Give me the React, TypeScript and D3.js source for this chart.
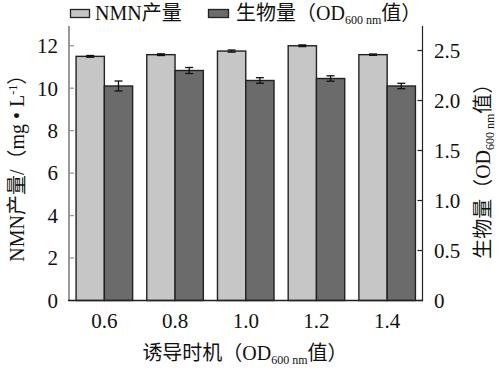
import React from "react";
import * as d3 from "d3";

const categories = ["0.6", "0.8", "1.0", "1.2", "1.4"];
const nmnValues = [11.5, 11.58, 11.75, 12.0, 11.58];
const nmnErrors = [0.04, 0.04, 0.05, 0.04, 0.03];
const bioValues = [2.145, 2.3, 2.2, 2.22, 2.145];
const bioErrors = [0.05, 0.03, 0.028, 0.027, 0.027];
const leftTicks = [0, 2, 4, 6, 8, 10, 12];
const rightTicks = [0, 0.5, 1.0, 1.5, 2.0, 2.5];
const rightTickLabels = ["0", "0.5", "1.0", "1.5", "2.0", "2.5"];

const W = 503;
const H = 371;
const left = 69;
const right = 422.5;
const top = 26;
const bottom = 300.5;

const FONT = "Liberation Serif, DejaVu Serif, Noto Sans CJK SC, serif";
const NMN_FILL = "#c6c6c6";
const BIO_FILL = "#6b6b6b";
const STROKE = "#222";

export default function App() {
  const x = d3.scaleBand<string>().domain(categories).range([left, right]).paddingInner(0.2).paddingOuter(0.1);
  const xSub = d3.scaleBand<string>().domain(["nmn", "bio"]).range([0, x.bandwidth()]).padding(0);
  const yL = d3.scaleLinear().domain([0, 12.93]).range([bottom, top]);
  const yR = d3.scaleLinear().domain([0, 2.745]).range([bottom, top]);
  const bw = xSub.bandwidth();

  const errBar = (cx: number, yTop: number, yBot: number, key: string) => (
    <g key={key} stroke="#111" strokeWidth={1.3}>
      <line x1={cx} x2={cx} y1={yTop} y2={yBot} />
      <line x1={cx - 4} x2={cx + 4} y1={yTop} y2={yTop} />
      <line x1={cx - 4} x2={cx + 4} y1={yBot} y2={yBot} />
    </g>
  );

  const ts = { fontFamily: FONT } as React.CSSProperties;

  return (
    <svg width={W} height={H} style={{ position: "absolute", left: 0, top: 0, background: "#fff", fontFamily: FONT }}>
      <rect x={0} y={0} width={W} height={H} fill="#fff" />
      {/* Legend */}
      <g>
        <rect x={70.5} y={9.5} width={19} height={8} fill={NMN_FILL} stroke={STROKE} strokeWidth={1.3} />
        <text x={95} y={20} fontSize={20} fill="#111" style={ts}>NMN产量</text>
        <rect x={208.5} y={9.5} width={20} height={8} fill={BIO_FILL} stroke={STROKE} strokeWidth={1.3} />
        <text x={236} y={20} fontSize={20} fill="#111" style={ts}>
          生物量（OD<tspan fontSize={12} dy={4}>600 nm</tspan><tspan dy={-4}>值）</tspan>
        </text>
      </g>

      {/* Bars */}
      {categories.map((c, i) => {
        const x0 = x(c)!;
        const xn = x0 + xSub("nmn")!;
        const xb = x0 + xSub("bio")!;
        return (
          <g key={c}>
            <rect x={xn} y={yL(nmnValues[i])} width={bw} height={bottom - yL(nmnValues[i])} fill={NMN_FILL} stroke={STROKE} strokeWidth={1.4} />
            <rect x={xb} y={yR(bioValues[i])} width={bw} height={bottom - yR(bioValues[i])} fill={BIO_FILL} stroke={STROKE} strokeWidth={1.4} />
            {errBar(xn + bw / 2, yL(nmnValues[i] + nmnErrors[i]), yL(nmnValues[i] - nmnErrors[i]), "en" + i)}
            {errBar(xb + bw / 2, yR(bioValues[i] + bioErrors[i]), yR(bioValues[i] - bioErrors[i]), "eb" + i)}
          </g>
        );
      })}

      {/* Left axis */}
      <line x1={left} x2={left} y1={top} y2={bottom} stroke="#999" strokeWidth={2} />
      {leftTicks.map((t) => (
        <g key={"l" + t}>
          <line x1={left} x2={left + 5} y1={yL(t)} y2={yL(t)} stroke="#999" strokeWidth={1.3} />
          <text x={58} y={yL(t)} dy="0.35em" textAnchor="end" fontSize={21} fill="#111" style={ts}>{t}</text>
        </g>
      ))}

      {/* Right axis */}
      <line x1={right} x2={right} y1={top} y2={bottom} stroke="#222" strokeWidth={1.2} />
      {rightTicks.map((t, i) => (
        <g key={"r" + t}>
          <line x1={right - 5} x2={right} y1={yR(t)} y2={yR(t)} stroke="#222" strokeWidth={1.2} />
          <text x={434} y={yR(t)} dy="0.35em" textAnchor="start" fontSize={21} fill="#111" style={ts}>{rightTickLabels[i]}</text>
        </g>
      ))}

      {/* Bottom axis */}
      <line x1={left - 1} x2={right + 0.6} y1={bottom} y2={bottom} stroke="#222" strokeWidth={1.4} />
      {categories.map((c) => (
        <text key={"x" + c} x={x(c)! + x.bandwidth() / 2} y={328} textAnchor="middle" fontSize={21} fill="#111" style={ts}>{c}</text>
      ))}

      {/* X title */}
      <text x={245} y={360} textAnchor="middle" fontSize={20} fill="#111" style={ts}>
        诱导时机（OD<tspan fontSize={12} dy={4}>600 nm</tspan><tspan dy={-4}>值）</tspan>
      </text>

      {/* Left title */}
      <text transform={`translate(24, ${(top + bottom) / 2}) rotate(-90)`} textAnchor="middle" fontSize={20} fill="#111" style={ts}>
        NMN产量/（mg • L<tspan fontSize={12} dy={-7}>-1</tspan><tspan dy={7}>）</tspan>
      </text>

      {/* Right title */}
      <text transform={`translate(490, ${(top + bottom) / 2 + 3}) rotate(-90)`} textAnchor="middle" fontSize={20} fill="#111" style={ts}>
        生物量（OD<tspan fontSize={12} dy={4}>600 nm</tspan><tspan dy={-4}>值）</tspan>
      </text>
    </svg>
  );
}
